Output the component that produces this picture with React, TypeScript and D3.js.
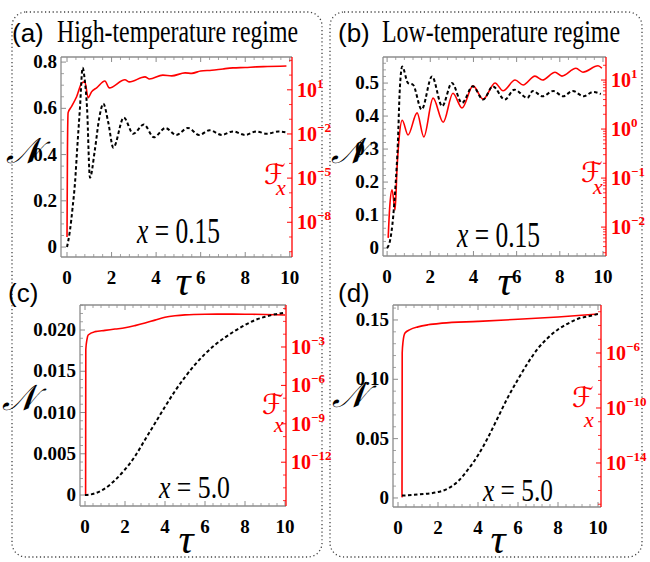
import React from "react";
import * as d3 from "d3";

// ---- data ----
// (a) high temperature, x = 0.15
const tauNA = [0, 0.13, 0.25, 0.36, 0.46, 0.58, 0.7, 0.8, 0.9, 1.03, 1.25, 1.45, 1.63, 1.85, 2.08, 2.55, 2.97, 3.45, 3.9, 4.42, 4.9, 5.43, 5.93, 6.4, 6.95, 7.45, 8.0, 8.5, 8.97, 9.5, 9.9];
const nA = [0, 0.07, 0.17, 0.28, 0.43, 0.6, 0.775, 0.72, 0.6, 0.3, 0.42, 0.56, 0.62, 0.54, 0.43, 0.56, 0.49, 0.53, 0.475, 0.515, 0.485, 0.515, 0.485, 0.505, 0.485, 0.5, 0.485, 0.5, 0.49, 0.5, 0.495];
const tauFA = [0.0, 0.02, 0.05, 0.2, 0.43, 0.67, 0.8, 0.95, 1.1, 1.33, 1.7, 1.9, 2.6, 2.8, 3.5, 3.7, 4.3, 4.7, 5.3, 5.6, 6.0, 6.5, 7.0, 7.45, 8.0, 8.5, 9.0, 9.85];
const logFA = [-9.0, -3.0, -0.55, -0.15, 0.53, 1.47, 1.54, 0.46, 0.86, 1.13, 1.6, 1.13, 1.68, 1.54, 1.88, 1.74, 2.0, 1.95, 2.15, 2.12, 2.28, 2.33, 2.42, 2.49, 2.52, 2.56, 2.58, 2.62];

// (b) low temperature, x = 0.15
const tauNB = [0, 0.14, 0.28, 0.4, 0.5, 0.58, 0.7, 0.97, 1.2, 1.6, 2.08, 2.55, 3.0, 3.47, 3.97, 4.45, 4.9, 5.45, 5.9, 6.5, 6.75, 7.2, 7.7, 8.15, 8.6, 9.1, 9.55, 9.9];
const nB = [0, 0.024, 0.094, 0.2, 0.32, 0.47, 0.55, 0.5, 0.495, 0.42, 0.52, 0.43, 0.5, 0.44, 0.49, 0.45, 0.49, 0.45, 0.48, 0.455, 0.476, 0.46, 0.476, 0.46, 0.476, 0.46, 0.473, 0.467];
const tauFB = [0.05, 0.12, 0.23, 0.37, 0.46, 0.55, 0.7, 0.97, 1.39, 1.7, 2.13, 2.6, 3.05, 3.47, 3.98, 4.45, 5.0, 5.37, 5.93, 6.3, 6.85, 7.2, 7.78, 8.1, 8.75, 9.07, 9.77, 9.95];
const logFB = [-2.22, -1.6, -1.24, -1.65, -0.8, -0.22, 0.18, -0.12, 0.33, -0.16, 0.63, 0.14, 0.73, 0.43, 0.88, 0.61, 0.94, 0.78, 1.0, 0.9, 1.08, 1.0, 1.16, 1.08, 1.24, 1.16, 1.29, 1.24];

// (c) high temperature, x = 5.0
const tauNC = [0, 0.5, 1, 1.5, 2, 2.5, 3, 3.5, 4, 4.5, 5, 5.5, 6, 6.5, 7, 7.5, 8, 8.5, 9, 9.5, 10];
const nC = [0, 0.0002, 0.0008, 0.0018, 0.0031, 0.0047, 0.0067, 0.0087, 0.0107, 0.0126, 0.0143, 0.0158, 0.0171, 0.0182, 0.0191, 0.0199, 0.0206, 0.0212, 0.0216, 0.0219, 0.0221];
const tauFC = [0.03, 0.04, 0.1, 0.16, 0.5, 1, 1.5, 2, 2.5, 3, 3.5, 4, 4.5, 5, 6, 7, 8, 9, 10];
const logFC = [-14.6, -3.2, -2.4, -2.06, -1.8, -1.7, -1.6, -1.5, -1.33, -1.13, -0.9, -0.68, -0.56, -0.49, -0.44, -0.43, -0.44, -0.46, -0.5];

// (d) low temperature, x = 5.0
const tauND = [0.2, 1, 2, 2.5, 3, 3.5, 4, 4.5, 5, 5.5, 6, 6.5, 7, 7.5, 8, 8.5, 9, 9.5, 10];
const nD = [0.002, 0.003, 0.005, 0.008, 0.014, 0.024, 0.036, 0.051, 0.068, 0.085, 0.1, 0.114, 0.126, 0.135, 0.142, 0.147, 0.151, 0.153, 0.155];
const tauFD = [0.2, 0.21, 0.25, 0.35, 0.6, 1.0, 1.5, 2.2, 4, 6, 8, 10];
const logFD = [-16.5, -6.0, -5.2, -4.55, -4.3, -4.1, -3.95, -3.83, -3.7, -3.55, -3.38, -3.17];

const tauTicks = [0, 2, 4, 6, 8, 10];
const nTicksA = [0, 0.2, 0.4, 0.6, 0.8];
const nLabelsA = ["0", "0.2", "0.4", "0.6", "0.8"];
const nTicksB = [0, 0.1, 0.2, 0.3, 0.4, 0.5];
const nLabelsB = ["0", "0.1", "0.2", "0.3", "0.4", "0.5"];
const nTicksC = [0, 0.005, 0.01, 0.015, 0.02];
const nLabelsC = ["0", "0.005", "0.010", "0.015", "0.020"];
const nTicksD = [0, 0.05, 0.1, 0.15];
const nLabelsD = ["0", "0.05", "0.10", "0.15"];
const fExpA = [1, -2, -5, -8];
const fExpB = [1, 0, -1, -2];
const fExpC = [-3, -6, -9, -12];
const fExpD = [-6, -10, -14];

const RED = "#ff0000";
const GRAY = "#8c8c8c";
const SERIF = "'Liberation Serif', 'DejaVu Serif', serif";
const SANS = "'Liberation Sans', Arial, sans-serif";

type PanelProps = {
  id: string;
  box: [number, number, number, number]; // left, right, top, bottom
  xDom: [number, number];
  nDom: [number, number];
  fDom: [number, number]; // log10
  tauN: number[];
  n: number[];
  tauF: number[];
  logF: number[];
  nTicks: number[];
  nLabels: string[];
  nMinor: number;
  fExp: number[];
  fMinorPerDecade: boolean;
  xText: string;
  xPos: [number, number, number, number]; // x, baseline, size, width
  nPos: [number, number];
  fPos: [number, number, number, number];
  tauPos: [number, number];
};

function Panel(p: PanelProps) {
  const [L, R, T, B] = p.box;
  const x = d3.scaleLinear().domain(p.xDom).range([L, R]);
  const yN = d3.scaleLinear().domain(p.nDom).range([B, T]);
  const yF = d3.scaleLog().domain([Math.pow(10, p.fDom[0]), Math.pow(10, p.fDom[1])]).range([B, T]);

  const nPath = d3.line<number>()
    .x((_, i) => x(p.tauN[i]))
    .y((d) => yN(d))
    .curve(d3.curveMonotoneX)(p.n);
  const fPath = d3.line<number>()
    .x((_, i) => x(p.tauF[i]))
    .y((d) => yF(Math.pow(10, d)))
    .curve(d3.curveMonotoneX)(p.logF);

  const xMinor = d3.range(0, 10.01, 0.4).filter((v) => Math.abs(v / 2 - Math.round(v / 2)) > 0.01);
  const nMinorTicks = d3.range(p.nDom[0] < 0 ? 0 : p.nDom[0], p.nDom[1], p.nMinor)
    .filter((v) => !p.nTicks.some((t) => Math.abs(t - v) < p.nMinor / 10));
  const lo = Math.ceil(p.fDom[0]);
  const hi = Math.floor(p.fDom[1]);
  const fMinor: number[] = [];
  for (let e = Math.floor(p.fDom[0]); e <= hi; e++) {
    if (p.fMinorPerDecade) {
      for (let k = 2; k < 10; k++) {
        const v = e + Math.log10(k);
        if (v > p.fDom[0] && v < p.fDom[1]) fMinor.push(v);
      }
    }
    if (e >= lo && !p.fExp.includes(e)) fMinor.push(e);
  }

  return (
    <g>
      <defs>
        <clipPath id={p.id}>
          <rect x={L} y={T} width={R - L} height={B - T} />
        </clipPath>
      </defs>
      {/* bottom / top frame ticks */}
      {tauTicks.map((t) => (
        <g key={"xt" + t} stroke={GRAY} strokeWidth={1}>
          <line x1={x(t)} x2={x(t)} y1={B} y2={B - 5} />
          <line x1={x(t)} x2={x(t)} y1={T} y2={T + 5} />
        </g>
      ))}
      {xMinor.map((t) => (
        <g key={"xm" + t} stroke={GRAY} strokeWidth={0.8}>
          <line x1={x(t)} x2={x(t)} y1={B} y2={B - 3} />
          <line x1={x(t)} x2={x(t)} y1={T} y2={T + 3} />
        </g>
      ))}
      {p.nTicks.map((t) => (
        <line key={"nt" + t} x1={L} x2={L + 5} y1={yN(t)} y2={yN(t)} stroke={GRAY} />
      ))}
      {nMinorTicks.map((t) => (
        <line key={"nm" + t} x1={L} x2={L + 3} y1={yN(t)} y2={yN(t)} stroke={GRAY} strokeWidth={0.8} />
      ))}
      {p.fExp.map((e) => (
        <line key={"ft" + e} x1={R} x2={R - 5} y1={yF(Math.pow(10, e))} y2={yF(Math.pow(10, e))} stroke={RED} />
      ))}
      {fMinor.map((e) => (
        <line key={"fm" + e} x1={R} x2={R - 3} y1={yF(Math.pow(10, e))} y2={yF(Math.pow(10, e))} stroke={RED} strokeWidth={0.8} />
      ))}
      <line x1={L} x2={R} y1={T} y2={T} stroke={GRAY} strokeWidth={1.3} />
      <line x1={L} x2={R} y1={B} y2={B} stroke={GRAY} strokeWidth={1.3} />
      <line x1={L} x2={L} y1={T} y2={B} stroke={GRAY} strokeWidth={1.3} />
      <line x1={R} x2={R} y1={T} y2={B} stroke={RED} strokeWidth={1.3} />

      <g clipPath={`url(#${p.id})`}>
        <path d={fPath || ""} fill="none" stroke={RED} strokeWidth={1.6} />
        <path d={nPath || ""} fill="none" stroke="#000" strokeWidth={2} strokeDasharray="3.5,2.5" />
      </g>

      {/* tick labels */}
      {tauTicks.map((t) => (
        <text key={"xl" + t} x={x(t)} y={B + 27} textAnchor="middle" fontFamily={SERIF} fontWeight="bold" fontSize={19}>
          {t}
        </text>
      ))}
      {p.nTicks.map((t, i) => (
        <text key={"nl" + t} x={L - 4} y={yN(t) + 6} textAnchor="end" fontFamily={SERIF} fontWeight="bold" fontSize={19}>
          {p.nLabels[i]}
        </text>
      ))}
      {p.fExp.map((e) => (
        <text key={"fl" + e} x={R + 5} y={yF(Math.pow(10, e)) + 7} fontFamily={SERIF} fontWeight="bold" fontSize={20} fill={RED}>
          10
          <tspan dy={-9} fontSize={13}>{e < 0 ? "\u2212" + -e : String(e)}</tspan>
        </text>
      ))}

      {/* axis titles */}
      <text x={p.tauPos[0]} y={p.tauPos[1]} textAnchor="middle" fontFamily={SERIF} fontStyle="italic" fontSize={42}>
        τ
      </text>
      <text x={p.nPos[0]} y={p.nPos[1]} textAnchor="middle" fontFamily={SERIF} fontStyle="italic" fontSize={36}>
        𝒩
      </text>
      <text x={p.fPos[0]} y={p.fPos[1]} fontFamily="'DejaVu Sans', sans-serif" fontSize={28} fill={RED}>
        ℱ
      </text>
      <text x={p.fPos[2]} y={p.fPos[3]} fontFamily={SERIF} fontStyle="italic" fontSize={22} fill={RED}>
        x
      </text>
      <text x={p.xPos[0]} y={p.xPos[1]} fontFamily={SERIF} fontSize={p.xPos[2]} textLength={p.xPos[3]} lengthAdjust="spacingAndGlyphs">
        <tspan fontStyle="italic">x</tspan> = {p.xText}
      </text>
    </g>
  );
}

export default function App() {
  return (
    <svg width={650} height={562} style={{ display: "block", position: "absolute", left: 0, top: 0, background: "#fff" }}>
      <rect x={12} y={12} width={310} height={545} rx={14} fill="none" stroke="#444" strokeWidth={1.3} strokeDasharray="1.2,2.6" />
      <rect x={330} y={12} width={312} height={545} rx={14} fill="none" stroke="#444" strokeWidth={1.3} strokeDasharray="1.2,2.6" />

      <text x={12} y={42} fontFamily={SANS} fontSize={26}>(a)</text>
      <text x={57} y={42} fontFamily={SERIF} fontSize={31} textLength={241} lengthAdjust="spacingAndGlyphs">High-temperature regime</text>
      <text x={338} y={42} fontFamily={SANS} fontSize={26}>(b)</text>
      <text x={382} y={42} fontFamily={SERIF} fontSize={31} textLength={238} lengthAdjust="spacingAndGlyphs">Low-temperature regime</text>
      <text x={8} y={302} fontFamily={SANS} fontSize={26}>(c)</text>
      <text x={338} y={302} fontFamily={SANS} fontSize={26}>(d)</text>

      <Panel
        id="clipA" box={[61, 292, 57, 257]} xDom={[-0.27, 10.1]} nDom={[-0.043, 0.822]} fDom={[-10.36, 3.23]}
        tauN={tauNA} n={nA} tauF={tauFA} logF={logFA}
        nTicks={nTicksA} nLabels={nLabelsA} nMinor={0.05} fExp={fExpA} fMinorPerDecade={false}
        xText="0.15" xPos={[137, 243, 36, 83]} nPos={[23, 163]} fPos={[264, 184, 276, 195]} tauPos={[183, 295]}
      />
      <Panel
        id="clipB" box={[383, 606, 57, 256]} xDom={[-0.19, 10.14]} nDom={[-0.024, 0.579]} fDom={[-2.59, 1.47]}
        tauN={tauNB} n={nB} tauF={tauFB} logF={logFB}
        nTicks={nTicksB} nLabels={nLabelsB} nMinor={0.02} fExp={fExpB} fMinorPerDecade={true}
        xText="0.15" xPos={[457, 247, 36, 83]} nPos={[348, 163]} fPos={[581, 182, 593, 194]} tauPos={[505, 295]}
      />
      <Panel
        id="clipC" box={[80, 286, 305, 506]} xDom={[-0.25, 10.05]} nDom={[-0.00133, 0.02303]} fDom={[-15.42, 0.28]}
        tauN={tauNC} n={nC} tauF={tauFC} logF={logFC}
        nTicks={nTicksC} nLabels={nLabelsC} nMinor={0.001} fExp={fExpC} fMinorPerDecade={false}
        xText="5.0" xPos={[159, 498, 32, 71]} nPos={[19, 410]} fPos={[262, 414, 274, 432]} tauPos={[186, 553]}
      />
      <Panel
        id="clipD" box={[393, 601, 305, 507]} xDom={[-0.25, 10.15]} nDom={[-0.0076, 0.1626]} fDom={[-17.2, -2.51]}
        tauN={tauND} n={nD} tauF={tauFD} logF={logFD}
        nTicks={nTicksD} nLabels={nLabelsD} nMinor={0.01} fExp={fExpD} fMinorPerDecade={false}
        xText="5.0" xPos={[483, 501, 32, 70]} nPos={[349, 407]} fPos={[572, 407, 584, 427]} tauPos={[498, 553]}
      />
    </svg>
  );
}
